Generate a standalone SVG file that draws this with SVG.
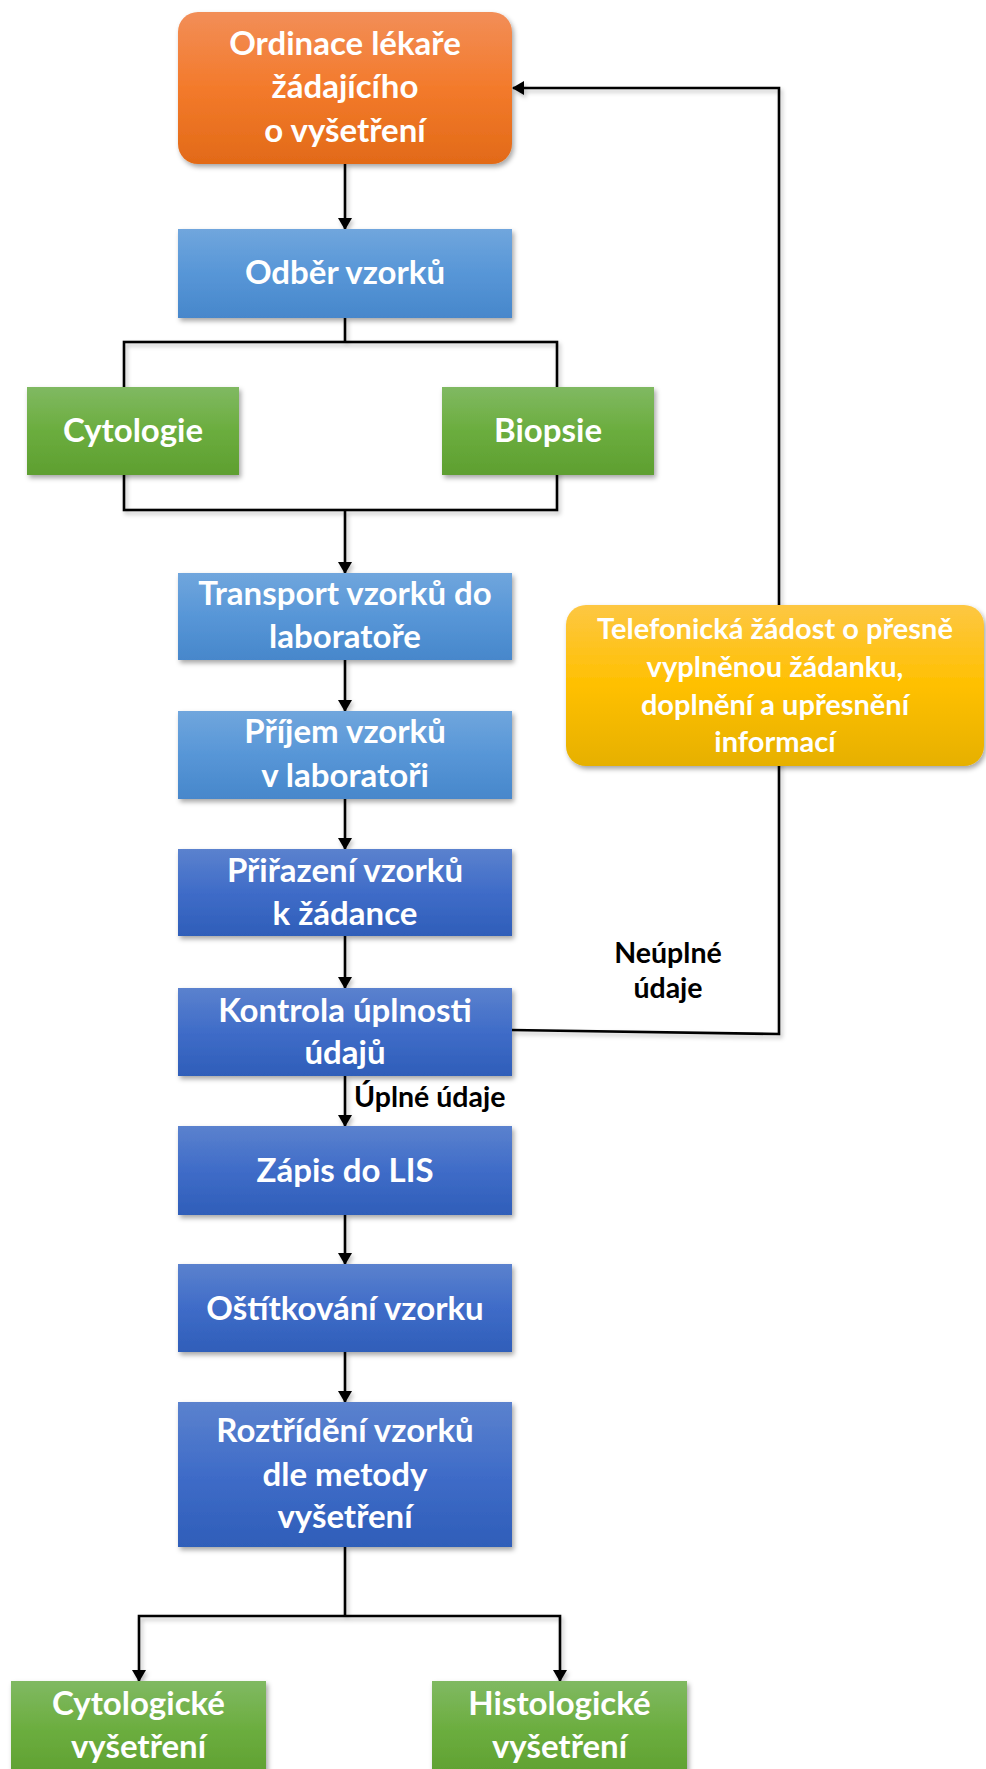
<svg xmlns="http://www.w3.org/2000/svg" width="986" height="1769" viewBox="0 0 986 1769">
  <defs>
    <linearGradient id="gOrange" x1="0" y1="0" x2="0" y2="1">
      <stop offset="0" stop-color="#F28E58"/>
      <stop offset="0.5" stop-color="#F37A2B"/>
      <stop offset="1" stop-color="#E26A18"/>
    </linearGradient>
    <linearGradient id="gLight" x1="0" y1="0" x2="0" y2="1">
      <stop offset="0" stop-color="#70A6DD"/>
      <stop offset="0.5" stop-color="#5796D7"/>
      <stop offset="1" stop-color="#4787CB"/>
    </linearGradient>
    <linearGradient id="gDark" x1="0" y1="0" x2="0" y2="1">
      <stop offset="0" stop-color="#5B82CE"/>
      <stop offset="0.5" stop-color="#3F6CC8"/>
      <stop offset="1" stop-color="#2F5EB9"/>
    </linearGradient>
    <linearGradient id="gGreen" x1="0" y1="0" x2="0" y2="1">
      <stop offset="0" stop-color="#80B962"/>
      <stop offset="0.5" stop-color="#6BAD3E"/>
      <stop offset="1" stop-color="#5E9F30"/>
    </linearGradient>
    <linearGradient id="gYellow" x1="0" y1="0" x2="0" y2="1">
      <stop offset="0" stop-color="#FDC743"/>
      <stop offset="0.5" stop-color="#FFC000"/>
      <stop offset="1" stop-color="#E6B003"/>
    </linearGradient>
    <filter id="shadow" x="-10%" y="-10%" width="125%" height="130%">
      <feDropShadow dx="2" dy="3" stdDeviation="2.5" flood-color="#000" flood-opacity="0.35"/>
    </filter>
    <filter id="lineShadow" x="-5%" y="-5%" width="110%" height="110%">
      <feDropShadow dx="2" dy="3" stdDeviation="2" flood-color="#000" flood-opacity="0.25"/>
    </filter>
    <marker id="arrow" markerWidth="12" markerHeight="14" refX="11" refY="7" orient="auto" markerUnits="userSpaceOnUse" viewBox="0 0 12 14">
      <path d="M0,0 L12,7 L0,14 Z" fill="#000"/>
    </marker>
  </defs>
  <style>
    .box { filter: url(#shadow); }
    .t { font-family: Lato, "Open Sans", "Liberation Sans", sans-serif; font-weight: bold; fill: #fff; text-anchor: middle; font-size: 33px; }
    .ts { font-size: 29px; }
    .lbl { font-family: Lato, "Open Sans", "Liberation Sans", sans-serif; font-weight: bold; fill: #000; font-size: 28.5px; }
    .c { fill: none; stroke: #000; stroke-width: 2.6; }
    .ca { fill: none; stroke: #000; stroke-width: 2.6; marker-end: url(#arrow); }
  </style>

  <!-- connectors -->
  <g id="connectors" filter="url(#lineShadow)">
    <line class="ca" x1="345" y1="164" x2="345" y2="229"/>
    <line class="c" x1="345" y1="318" x2="345" y2="342"/>
    <rect class="c" x="124" y="342" width="433" height="168"/>
    <line class="ca" x1="345" y1="510" x2="345" y2="573"/>
    <line class="ca" x1="345" y1="660" x2="345" y2="711"/>
    <line class="ca" x1="345" y1="799" x2="345" y2="849"/>
    <line class="ca" x1="345" y1="936" x2="345" y2="988"/>
    <line class="ca" x1="345" y1="1076" x2="345" y2="1126"/>
    <line class="ca" x1="345" y1="1215" x2="345" y2="1264"/>
    <line class="ca" x1="345" y1="1352" x2="345" y2="1402"/>
    <polyline class="c" points="345,1547 345,1616"/>
    <polyline class="ca" points="345,1616 139,1616 139,1681"/>
    <polyline class="ca" points="345,1616 560,1616 560,1681"/>
    <polyline class="ca" points="511,1030 779,1034 779,88 513,88"/>
  </g>

  <g id="lbl-uplne">
    <text class="lbl" x="354" y="1107">Úplné údaje</text>
  </g>
  <g id="lbl-neuplne">
    <text class="lbl" x="668" y="963" text-anchor="middle">Neúplné</text>
    <text class="lbl" x="668" y="998" text-anchor="middle">údaje</text>
  </g>

  <g id="n-ordinace">
    <rect class="box" x="178" y="12" width="334" height="152" rx="20" fill="url(#gOrange)"/>
    <text class="t" x="345" y="55">Ordinace lékaře</text>
    <text class="t" x="345" y="98">žádajícího</text>
    <text class="t" x="345" y="142">o vyšetření</text>
  </g>

  <g id="n-odber">
    <rect class="box" x="178" y="229" width="334" height="89" fill="url(#gLight)"/>
    <text class="t" x="345" y="284">Odběr vzorků</text>
  </g>

  <g id="n-cytologie">
    <rect class="box" x="27" y="387" width="212" height="88" fill="url(#gGreen)"/>
    <text class="t" x="133" y="442">Cytologie</text>
  </g>

  <g id="n-biopsie">
    <rect class="box" x="442" y="387" width="212" height="88" fill="url(#gGreen)"/>
    <text class="t" x="548" y="442">Biopsie</text>
  </g>

  <g id="n-transport">
    <rect class="box" x="178" y="573" width="334" height="87" fill="url(#gLight)"/>
    <text class="t" x="345" y="605">Transport vzorků do</text>
    <text class="t" x="345" y="648">laboratoře</text>
  </g>

  <g id="n-prijem">
    <rect class="box" x="178" y="711" width="334" height="88" fill="url(#gLight)"/>
    <text class="t" x="345" y="743">Příjem vzorků</text>
    <text class="t" x="345" y="787">v laboratoři</text>
  </g>

  <g id="n-prirazeni">
    <rect class="box" x="178" y="849" width="334" height="87" fill="url(#gDark)"/>
    <text class="t" x="345" y="882">Přiřazení vzorků</text>
    <text class="t" x="345" y="925">k žádance</text>
  </g>

  <g id="n-kontrola">
    <rect class="box" x="178" y="988" width="334" height="88" fill="url(#gDark)"/>
    <text class="t" x="345" y="1022">Kontrola úplnosti</text>
    <text class="t" x="345" y="1064">údajů</text>
  </g>

  <g id="n-zapis">
    <rect class="box" x="178" y="1126" width="334" height="89" fill="url(#gDark)"/>
    <text class="t" x="345" y="1182">Zápis do LIS</text>
  </g>

  <g id="n-stitkovani">
    <rect class="box" x="178" y="1264" width="334" height="88" fill="url(#gDark)"/>
    <text class="t" x="345" y="1320">Oštítkování vzorku</text>
  </g>

  <g id="n-roztrideni">
    <rect class="box" x="178" y="1402" width="334" height="145" fill="url(#gDark)"/>
    <text class="t" x="345" y="1442">Roztřídění vzorků</text>
    <text class="t" x="345" y="1486">dle metody</text>
    <text class="t" x="345" y="1528">vyšetření</text>
  </g>

  <g id="n-telefonicka">
    <rect class="box" x="566" y="605" width="418" height="161" rx="20" fill="url(#gYellow)"/>
    <text class="t ts" x="775" y="639">Telefonická žádost o přesně</text>
    <text class="t ts" x="775" y="677">vyplněnou žádanku,</text>
    <text class="t ts" x="775" y="715">doplnění a upřesnění</text>
    <text class="t ts" x="775" y="752">informací</text>
  </g>

  <g id="n-cytologicke">
    <rect class="box" x="11" y="1681" width="255" height="100" fill="url(#gGreen)"/>
    <text class="t" x="138.5" y="1715">Cytologické</text>
    <text class="t" x="138.5" y="1758">vyšetření</text>
  </g>

  <g id="n-histologicke">
    <rect class="box" x="432" y="1681" width="255" height="100" fill="url(#gGreen)"/>
    <text class="t" x="559.5" y="1715">Histologické</text>
    <text class="t" x="559.5" y="1758">vyšetření</text>
  </g>
</svg>
